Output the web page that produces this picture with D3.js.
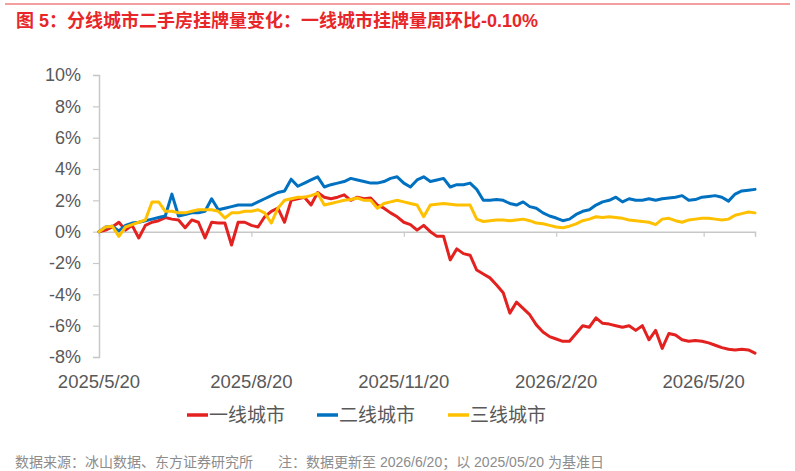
<!DOCTYPE html>
<html>
<head>
<meta charset="utf-8">
<script src="https://cdn.jsdelivr.net/npm/d3@7"></script>
<style>
  body { margin: 0; background: #fff; }
  text { font-family: "Liberation Sans", Arial, "Noto Sans CJK SC", sans-serif; }
</style>
</head>
<body>
<div id="chart"></div>
<script>
// sampled every 4 days starting 2025/5/20
var START = "2025-05-20";
var STEPDAYS = 4;

var tier1 = [0, 0.1, 0.3, 0.6, 0.1, 0.4, -0.4, 0.4, 0.6, 0.7,
             0.9, 0.8, 0.75, 0.25, 0.75, 0.6, -0.4, 0.6, 0.55, 0.55,
             -0.85, 0.6, 0.6, 0.4, 0.3, 0.95, 1.3, 1.5, 0.6, 2.0,
             2.1, 2.2, 1.7, 2.5, 2.2, 2.1, 2.2, 2.35, 2.0, 2.2,
             2.1, 2.15, 1.7, 1.5, 1.2, 0.95, 0.6, 0.45, 0.1, 0.4,
             0.0, -0.3, -0.3, -1.8, -1.1, -1.4, -1.5, -2.45, -2.7, -2.95,
             -3.4, -3.9, -5.2, -4.5, -4.9, -5.3, -5.95, -6.4, -6.7, -6.85,
             -7.0, -7.0, -6.5, -6.0, -6.1, -5.5, -5.85, -5.9, -6.0, -6.1,
             -6.0, -6.3, -6.0, -6.9, -6.3, -7.45, -6.5, -6.6, -6.9, -7.0,
             -6.95, -7.0, -7.1, -7.25, -7.4, -7.5, -7.55, -7.5, -7.55, -7.75];

var tier2 = [0, 0.3, 0.35, 0.05, 0.4, 0.55, 0.6, 0.7, 0.8, 0.9,
             1.0, 2.4, 1.0, 1.1, 1.2, 1.2, 1.3, 2.1, 1.4, 1.5,
             1.6, 1.7, 1.7, 1.7, 1.9, 2.1, 2.3, 2.5, 2.6, 3.35,
             2.9, 3.1, 3.3, 3.5, 2.85, 3.0, 3.1, 3.2, 3.4, 3.3,
             3.2, 3.1, 3.1, 3.2, 3.4, 3.5, 3.1, 2.85, 3.3, 3.5,
             3.2, 3.3, 3.4, 2.85, 3.0, 3.0, 3.1, 2.7, 2.0, 2.0,
             2.05, 2.0, 1.8, 1.7, 1.9, 1.6, 1.5, 1.2, 1.0, 0.87,
             0.7, 0.8, 1.1, 1.3, 1.4, 1.7, 1.9, 2.0, 2.2, 1.9,
             2.1, 2.0, 2.0, 2.1, 2.0, 2.1, 2.15, 2.2, 2.3, 2.0,
             2.05, 2.2, 2.25, 2.3, 2.2, 1.95, 2.4, 2.6, 2.65, 2.7];

var tier3 = [0, 0.3, 0.35, -0.3, 0.3, 0.45, 0.6, 0.75, 1.9, 1.9,
             1.3, 1.3, 1.2, 1.2, 1.3, 1.4, 1.4, 1.4, 1.3, 0.87,
             1.2, 1.2, 1.3, 1.3, 1.4, 1.2, 0.55, 1.5, 2.0, 2.1,
             2.2, 2.2, 2.3, 2.45, 1.7, 1.8, 1.9, 2.0, 2.05, 2.15,
             2.0, 2.0, 1.5, 1.8, 1.9, 2.0, 1.9, 1.8, 1.7, 0.95,
             1.7, 1.75, 1.8, 1.75, 1.7, 1.7, 1.7, 0.8, 0.65, 0.7,
             0.75, 0.75, 0.7, 0.75, 0.8, 0.7, 0.55, 0.5, 0.4, 0.3,
             0.25, 0.35, 0.5, 0.7, 0.8, 0.95, 0.9, 0.95, 0.9, 0.85,
             0.75, 0.7, 0.65, 0.6, 0.45, 0.8, 0.85, 0.7, 0.6, 0.75,
             0.8, 0.85, 0.85, 0.8, 0.75, 0.8, 1.05, 1.15, 1.25, 1.2];

var seriesNames = ["一线城市", "二线城市", "三线城市"];
var seriesColors = ["#e3211f", "#0070c0", "#ffc000"];

var tickDates = ["2025-05-20", "2025-08-20", "2025-11-20", "2026-02-20", "2026-05-20"];
var tickLabels = ["2025/5/20", "2025/8/20", "2025/11/20", "2026/2/20", "2026/5/20"];
var yTicks = [-8, -6, -4, -2, 0, 2, 4, 6, 8, 10];

var TITLE = "图 5：分线城市二手房挂牌量变化：一线城市挂牌量周环比-0.10%";
var SOURCE = "数据来源：冰山数据、东方证券研究所";
var NOTE = "注：数据更新至 2026/6/20；以 2025/05/20 为基准日";

function createChart(id) {
    var width = 795, height = 471;
    var parse = d3.timeParse("%Y-%m-%d");
    var start = parse(START);
    var dates = tier1.map(function(d, i) { return d3.timeDay.offset(start, i * STEPDAYS); });

    var svg = d3.select(id).append("svg")
        .attr("width", width)
        .attr("height", height);

    // header rule + title
    svg.append("line")
        .attr("x1", 5).attr("x2", 790)
        .attr("y1", 4).attr("y2", 4)
        .attr("stroke", "#ef7f7f")
        .attr("stroke-width", 1.5);

    svg.append("text")
        .attr("x", 16).attr("y", 27)
        .attr("fill", "#e8262a")
        .attr("font-size", 18)
        .attr("font-weight", "bold")
        .attr("font-family", "'Noto Sans CJK SC', sans-serif")
        .text(TITLE);

    var x = d3.scaleTime()
        .domain([start, dates[dates.length - 1]])
        .range([99, 755]);

    var y = d3.scaleLinear()
        .domain([-8, 10])
        .range([357, 75]);

    // y axis
    var yAxis = d3.axisLeft(y)
        .tickValues(yTicks)
        .tickSize(6)
        .tickPadding(12)
        .tickFormat(function(d) { return d + "%"; });

    var gy = svg.append("g")
        .attr("transform", "translate(99,0)")
        .call(yAxis);
    gy.select(".domain").attr("stroke", "#c8c8c8").attr("stroke-width", 1.5);
    gy.selectAll(".tick line").attr("stroke", "#c8c8c8").attr("stroke-width", 1.2);
    gy.selectAll(".tick text")
        .attr("fill", "#595959")
        .attr("font-size", 18)
        .attr("font-family", "'Liberation Sans', Arial, sans-serif");

    // x axis drawn on the zero line
    var xAxis = d3.axisBottom(x)
        .tickValues(tickDates.map(parse))
        .tickSize(5)
        .tickFormat("");

    var gx = svg.append("g")
        .attr("transform", "translate(0," + y(0) + ")")
        .call(xAxis);
    gx.select(".domain").attr("stroke", "#c8c8c8").attr("stroke-width", 1.5);
    gx.selectAll(".tick line").attr("stroke", "#c8c8c8").attr("stroke-width", 1.2);

    svg.selectAll(".xlabel")
        .data(tickDates)
        .enter().append("text")
        .attr("class", "xlabel")
        .attr("x", function(d) { return x(parse(d)); })
        .attr("y", 388)
        .attr("text-anchor", "middle")
        .attr("fill", "#595959")
        .attr("font-size", 18.5)
        .attr("font-family", "'Liberation Sans', Arial, sans-serif")
        .text(function(d, i) { return tickLabels[i]; });

    // lines
    var line = d3.line()
        .x(function(d, i) { return x(dates[i]); })
        .y(function(d) { return y(d); });

    var allSeries = [tier1, tier2, tier3];
    svg.selectAll(".series")
        .data(allSeries)
        .enter().append("path")
        .attr("class", "series")
        .attr("d", line)
        .attr("fill", "none")
        .attr("stroke", function(d, i) { return seriesColors[i]; })
        .attr("stroke-width", 3)
        .attr("stroke-linejoin", "round")
        .attr("stroke-linecap", "round");

    // legend
    var legendX = [187, 317, 448];
    var legend = svg.selectAll(".legend")
        .data(seriesNames)
        .enter().append("g")
        .attr("class", "legend")
        .attr("transform", function(d, i) { return "translate(" + legendX[i] + ",415)"; });

    legend.append("line")
        .attr("x1", 0).attr("x2", 21)
        .attr("y1", 0).attr("y2", 0)
        .attr("stroke", function(d, i) { return seriesColors[i]; })
        .attr("stroke-width", 3.5);

    legend.append("text")
        .attr("x", 22).attr("y", 7)
        .attr("fill", "#595959")
        .attr("font-size", 19)
        .attr("font-family", "'Noto Sans CJK SC', sans-serif")
        .text(function(d) { return d; });

    // footer
    svg.append("text")
        .attr("x", 15).attr("y", 467)
        .attr("fill", "#8c8c8c")
        .attr("font-size", 14)
        .attr("font-family", "'Noto Sans CJK SC', sans-serif")
        .text(SOURCE);

    svg.append("text")
        .attr("x", 278).attr("y", 467)
        .attr("fill", "#8c8c8c")
        .attr("font-size", 14)
        .attr("font-family", "'Noto Sans CJK SC', sans-serif")
        .text(NOTE);
}

createChart("#chart");
</script>
</body>
</html>
